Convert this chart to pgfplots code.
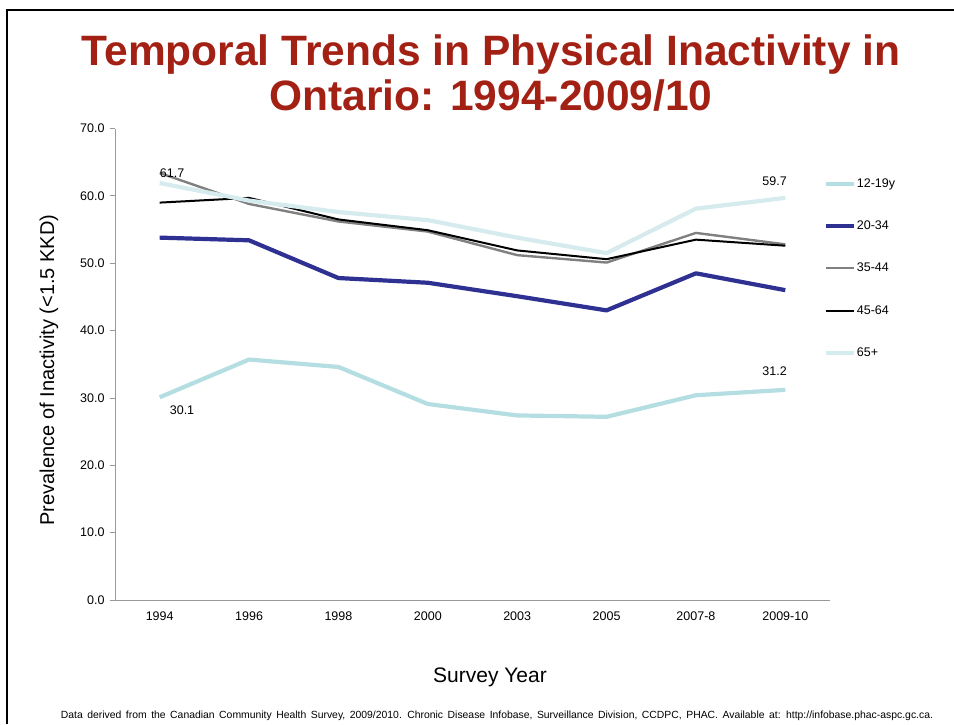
\documentclass[border=0pt]{standalone}
\usepackage{fontspec}
\setmainfont{Liberation Sans}
\setsansfont{Liberation Sans}
\usepackage{pgfplots}
\pgfplotsset{compat=1.18}
\definecolor{titlered}{RGB}{163,33,20}
\definecolor{teenc}{RGB}{180,222,226}
\definecolor{youngc}{RGB}{46,49,146}
\definecolor{midc}{RGB}{128,128,128}
\definecolor{oldc}{RGB}{0,0,0}
\definecolor{seniorc}{RGB}{213,235,237}
\begin{document}
\begin{tikzpicture}[x=1pt,y=1pt]
\useasboundingbox (0pt,0pt) rectangle (954pt,-724pt);
\draw[line width=2.2pt] (7pt,-724pt) -- (7pt,-10pt) -- (954pt,-10pt);
\node[font=\fontsize{42.5}{45}\selectfont\bfseries, text=titlered, align=center] at (491pt,-73pt)
  {Temporal Trends in Physical Inactivity in\\Ontario: 1994-2009/10};
\node[rotate=90, font=\fontsize{20}{24}\selectfont] at (49pt,-370pt) {Prevalence of Inactivity (<1.5 KKD)};
\node[font=\fontsize{21}{25}\selectfont] at (490pt,-677pt) {Survey Year};
\node[font=\fontsize{10.4}{12}\selectfont] at (497pt,-716pt) {\spaceskip=4.5pt plus 1pt Data derived from the Canadian Community Health Survey, 2009/2010. Chronic Disease Infobase, Surveillance Division, CCDPC, PHAC. Available at: http://infobase.phac-aspc.gc.ca.};
\begin{axis}[
  at={(115pt,-600pt)}, anchor=south west,
  width=715pt, height=471.5pt, scale only axis,
  xmin=-0.5, xmax=7.5, ymin=0, ymax=70,
  axis lines*=left,
  axis line style={draw=gray!80, line width=0.8pt},
  tick align=outside,
  xtick={0,...,7},
  xticklabels={1994,1996,1998,2000,2003,2005,2007-8,2009-10},
  x tick style={draw=none},
  extra x ticks={0.5,1.5,2.5,3.5,4.5,5.5,6.5,7.5},
  extra x tick labels={},
  extra x tick style={tick style={draw=gray!80, line width=0.8pt}, major tick length=5pt},
  ytick={0,10,...,70},
  y tick style={draw=gray!80, line width=0.8pt},
  major tick length=5pt,
  yticklabel style={/pgf/number format/fixed, /pgf/number format/fixed zerofill, /pgf/number format/precision=1},
  /pgf/number format/assume math mode=true,
  tick label style={font=\fontsize{12.5}{14}\selectfont},
  xticklabel style={yshift=-3pt},
  yticklabel style={xshift=-2pt},
  legend style={at={(1,0.895)}, anchor=north west, xshift=-6pt, draw=none, fill=none,
    font=\fontsize{12.5}{14}\selectfont, row sep=31pt, inner sep=0pt,
    nodes={inner sep=0.5pt, anchor=west}},
  legend cell align=left,
  legend image code/.code={\draw[#1] (0pt,0pt) -- (28pt,0pt);},
  clip=false,
]
\addplot[teenc, line width=4.2pt, line join=round] coordinates {(0,30.1) (1,35.7) (2,34.6) (3,29.1) (4,27.4) (5,27.2) (6,30.4) (7,31.2)};
\addlegendentry{12-19y}
\addplot[youngc, line width=4.2pt, line join=round] coordinates {(0,53.8) (1,53.4) (2,47.8) (3,47.1) (4,45.1) (5,43.0) (6,48.5) (7,46.0)};
\addlegendentry{20-34}
\addplot[midc, line width=2.4pt, line join=round] coordinates {(0,63.4) (1,58.8) (2,56.2) (3,54.7) (4,51.2) (5,50.1) (6,54.5) (7,52.8)};
\addlegendentry{35-44}
\addplot[oldc, line width=2pt, line join=round] coordinates {(0,59.0) (1,59.7) (2,56.5) (3,54.9) (4,51.9) (5,50.6) (6,53.5) (7,52.6)};
\addlegendentry{45-64}
\addplot[seniorc, line width=4.2pt, line join=round] coordinates {(0,61.9) (1,59.3) (2,57.6) (3,56.4) (4,53.8) (5,51.5) (6,58.1) (7,59.7)};
\addlegendentry{65+}
\node[anchor=west, inner sep=0pt, font=\fontsize{12.5}{14}\selectfont] at (axis cs:0,63.4) {61.7};
\node[inner sep=0pt, font=\fontsize{12.5}{14}\selectfont] at (axis cs:0.25,28.2) {30.1};
\node[inner sep=0pt, font=\fontsize{12.5}{14}\selectfont] at (axis cs:6.88,62.25) {59.7};
\node[inner sep=0pt, font=\fontsize{12.5}{14}\selectfont] at (axis cs:6.88,33.9) {31.2};
\end{axis}
\end{tikzpicture}
\end{document}
